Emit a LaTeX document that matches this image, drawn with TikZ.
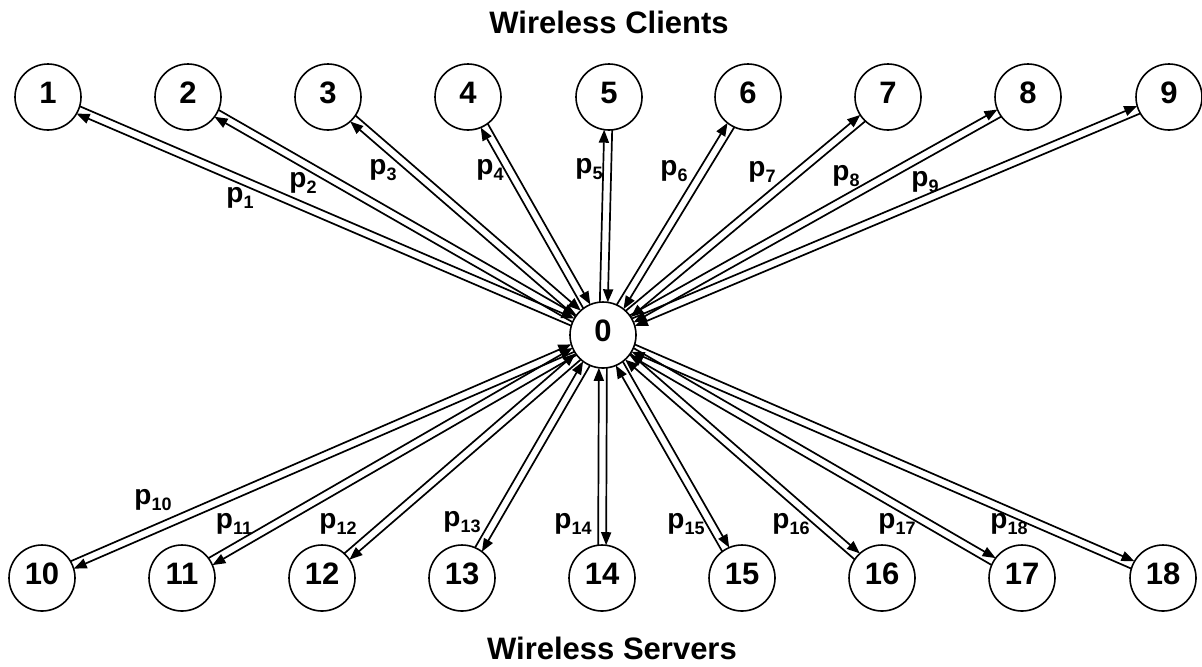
\documentclass[tikz,border=0pt]{standalone}
\usepackage{fontspec}
\setmainfont{Liberation Sans}
\usetikzlibrary{calc,arrows.meta}
\tikzset{
  host/.style={circle,draw,line width=0.8pt,minimum size=33pt,inner sep=0pt,text height=1.3ex,text depth=0pt,font=\fontsize{15.5}{15.5}\selectfont\bfseries},
  link/.style={line width=0.85pt,-{Triangle[length=6.5pt,width=5pt]},shorten <=16.4pt,shorten >=16.4pt},
  plab/.style={font=\fontsize{14}{14}\selectfont\bfseries},
  title/.style={font=\fontsize{15.5}{15.5}\selectfont\bfseries}
}
\newcommand{\pname}[1]{p\raisebox{-0.22em}{\fontsize{9}{9}\selectfont#1}}

\begin{document}
\begin{tikzpicture}[x=0.5pt,y=-0.5pt]
  \useasboundingbox (0,0) rectangle (1202,666);
  \node[title] (clients) at (609,22) {Wireless Clients};
  \node[title] (servers) at (612,648) {Wireless Servers};
  \node[host] (n0) at (603,335) {0};

  % clients
  \foreach \i/\x/\lx/\ly in {1/48/240/198, 2/188/303/183, 3/328/383/170, 4/468/490/170, 5/609/589/169, 6/748/674/171, 7/888/762/172, 8/1028/846/176, 9/1169/925/182}{
    \node[host] (n\i) at (\x,97) {\i};
    \node[plab] (p\i) at (\lx,\ly) {\pname{\i}};
    \draw[link] ($(n0)!2pt!90:(n\i)$) -- ($(n\i)!2pt!-90:(n0)$);
    \draw[link] ($(n\i)!2pt!90:(n0)$) -- ($(n0)!2pt!-90:(n\i)$);
  }

  % servers
  \foreach \i/\x/\lx/\ly in {10/42/153/500, 11/182/234/524, 12/322/338/524, 13/462/462/522, 14/602/573/524, 15/742/686/524, 16/882/791/524, 17/1022/897/524, 18/1163/1009/524}{
    \node[host] (n\i) at (\x,578) {\i};
    \node[plab] (p\i) at (\lx,\ly) {\pname{\i}};
    \draw[link] ($(n0)!2pt!90:(n\i)$) -- ($(n\i)!2pt!-90:(n0)$);
    \draw[link] ($(n\i)!2pt!90:(n0)$) -- ($(n0)!2pt!-90:(n\i)$);
  }
\end{tikzpicture}
\end{document}
